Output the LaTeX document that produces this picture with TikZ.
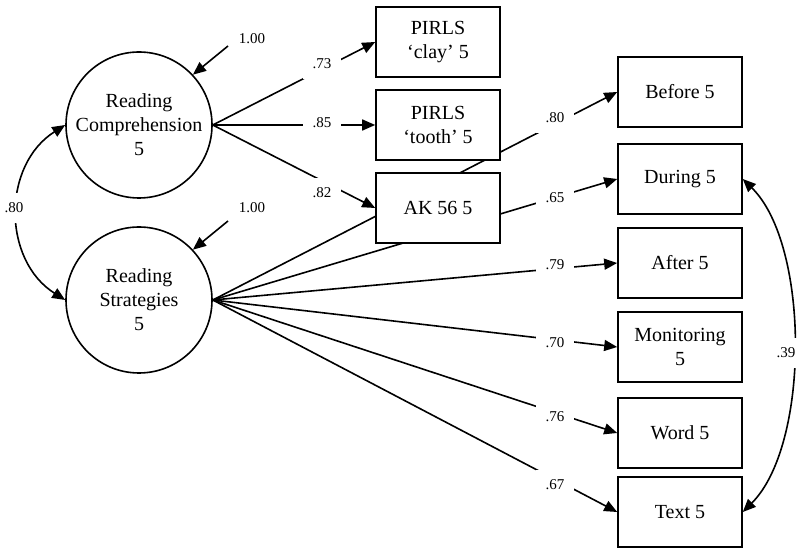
\documentclass[tikz,border=0pt]{standalone}
\usepackage{fontspec}
\setmainfont{Liberation Serif}
\usetikzlibrary{shapes,backgrounds}
\usetikzlibrary{arrows.meta}

\tikzset{
	latent/.style={draw, circle, minimum size=73pt, inner sep=0pt, align=center, fill=white},
	indicator/.style={draw, rectangle, minimum width=62pt, minimum height=35pt, align=center, fill=white},
	loading/.style={->, line width=0.8pt},
	coef/.style={fill=white, inner sep=5pt, font=\fontsize{7.5}{9}\selectfont},
	errlab/.style={font=\fontsize{7.5}{9}\selectfont}
}

\begin{document}
\begin{tikzpicture}[x=0.5pt, y=-0.5pt, line width=0.8pt, >={Triangle[length=6.5pt,width=5.5pt]}]
	\useasboundingbox (0,0) rectangle (797,549);
	% latent variables
	\node[latent] (rc) at (139,125) {Reading\\Comprehension\\5};
	\node[latent] (rs) at (139,300) {Reading\\Strategies\\5};
	% comprehension indicators
	\node[indicator] (clay) at (438,42) {PIRLS\\`clay' 5};
	\node[indicator] (tooth) at (438,125) {PIRLS\\`tooth' 5};
	\node[indicator] (ak) at (438,208) {AK 56 5};
	% strategy indicators
	\node[indicator] (before) at (680,92) {Before 5};
	\node[indicator] (during) at (680,179) {During 5};
	\node[indicator] (after) at (680,263) {After 5};
	\node[indicator] (monit) at (680,347) {Monitoring\\5};
	\node[indicator] (word) at (680,433) {Word 5};
	\node[indicator] (text) at (680,512) {Text 5};
	% residual arrows
	\coordinate (e1) at (228,46);
	\coordinate (e2) at (228,221);
	\node[errlab] (v1) at (252,39) {1.00};
	\node[errlab] (v2) at (252,208) {1.00};
	\draw[->] (e1) -- (rc.43);
	\draw[->] (e2) -- (rs.43);
	\begin{scope}[on background layer]
		\draw[loading] (rc.east) -- (clay.west);
		\draw[loading] (rc.east) -- (tooth.west);
		\draw[loading] (rc.east) -- (ak.west);
		\draw[loading] (rs.east) -- (before.west);
		\draw[loading] (rs.east) -- (during.west);
		\draw[loading] (rs.east) -- (after.west);
		\draw[loading] (rs.east) -- (monit.west);
		\draw[loading] (rs.east) -- (word.west);
		\draw[loading] (rs.east) -- (text.west);
	\end{scope}
	% correlations
	\draw[<->] (rc.west) .. controls (2,165) and (2,260) .. (rs.west);
	\draw[<->] (during.east) .. controls (810,245) and (810,445) .. (text.east);
	% loadings
	\node[coef] (l1) at (322,64) {.73};
	\node[coef] (l2) at (322,123) {.85};
	\node[coef] (l3) at (322,193) {.82};
	\node[coef] (l4) at (555,118) {.80};
	\node[coef] (l5) at (555,198) {.65};
	\node[coef] (l6) at (555,265) {.79};
	\node[coef] (l7) at (555,343) {.70};
	\node[coef] (l8) at (555,417) {.76};
	\node[coef] (l9) at (555,485) {.67};
	\node[coef] (c1) at (14,208) {.80};
	\node[coef] (c2) at (786,353) {.39};
\end{tikzpicture}
\end{document}
